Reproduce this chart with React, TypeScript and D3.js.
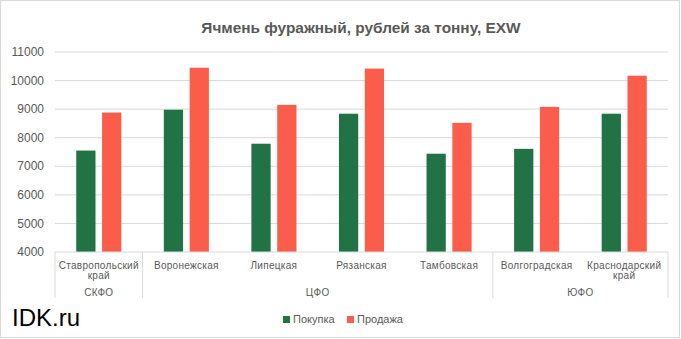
import React from "react";
import * as d3 from "d3";

const categories = ["Ставропольский край", "Воронежская", "Липецкая", "Рязанская", "Тамбовская", "Волгоградская", "Краснодарский край"];
const groups = ["СКФО", "ЦФО", "ЦФО", "ЦФО", "ЦФО", "ЮФО", "ЮФО"];
const buyValues = [7550, 8980, 7790, 8840, 7440, 7610, 8840];
const sellValues = [8880, 10450, 9150, 10420, 8520, 9080, 10170];
const yTicks = [4000, 5000, 6000, 7000, 8000, 9000, 10000, 11000];
const seriesNames = ["Покупка", "Продажа"];
const colors = ["#217346", "#FA5E4B"];

const W = 681, H = 339;
const left = 55, right = 668, top = 52, bottom = 252;
const font = "'Liberation Sans', Arial, sans-serif";
const textColor = "#595959";
const gridColor = "#d9d9d9";

export default function App() {
  const x = d3.scaleBand<number>().domain(d3.range(categories.length)).range([left, right]).padding(0);
  const y = d3.scaleLinear().domain([4000, 11000]).range([bottom, top]);
  const bw = x.bandwidth();
  const barW = bw * 0.22;
  const gap = bw * 0.075;

  const spans: { name: string; start: number; end: number }[] = [];
  groups.forEach((g, i) => {
    const last = spans[spans.length - 1];
    if (last && last.name === g) last.end = i;
    else spans.push({ name: g, start: i, end: i });
  });

  return (
    <svg width={W} height={H} style={{ position: "absolute", left: 0, top: 0, background: "#fff" }} fontFamily={font}>
      <rect x={0.5} y={0.5} width={679} height={337} fill="#fff" stroke={gridColor} />
      <text x={361} y={33} textAnchor="middle" fontSize={15.4} fontWeight="bold" fill={textColor}>
        Ячмень фуражный, рублей за тонну, EXW
      </text>
      {yTicks.map((t) => (
        <g key={t}>
          {t > 4000 && <line x1={left} x2={right} y1={y(t)} y2={y(t)} stroke={gridColor} strokeWidth={1} />}
          <text x={44} y={y(t)} dy="0.35em" textAnchor="end" fontSize={12} fill={textColor}>{t}</text>
        </g>
      ))}
      {categories.map((c, i) => {
        const cx = x(i)! + bw / 2;
        const vals = [buyValues[i], sellValues[i]];
        return (
          <g key={c}>
            {vals.map((v, k) => {
              const bx = k === 0 ? cx - gap / 2 - barW : cx + gap / 2;
              return <rect key={k} x={bx} y={y(v)} width={barW} height={y(4000) - y(v)} fill={colors[k]} />;
            })}
            {c.split(" ").map((w, j) => (
              <text key={j} x={cx} y={268.5 + j * 10} textAnchor="middle" fontSize={10} letterSpacing={0.3} fill={textColor}>{w}</text>
            ))}
          </g>
        );
      })}
      <line x1={left} x2={right} y1={bottom} y2={bottom} stroke={gridColor} />
      {spans.map((s, i) => {
        const x0 = x(s.start)!;
        const x1 = x(s.end)! + bw;
        return (
          <g key={i}>
            <line x1={x0} x2={x0} y1={bottom} y2={298} stroke={gridColor} />
            {i === spans.length - 1 && <line x1={x1} x2={x1} y1={bottom} y2={298} stroke={gridColor} />}
            <text x={(x0 + x1) / 2} y={295.5} textAnchor="middle" fontSize={10} letterSpacing={0.3} fill={textColor}>{s.name}</text>
          </g>
        );
      })}
      <text x={12} y={326} fontSize={24} fill="#000">IDK.ru</text>
      {seriesNames.map((n, k) => {
        const lx = k === 0 ? 283 : 347;
        return (
          <g key={n}>
            <rect x={lx} y={316} width={7} height={7} fill={colors[k]} />
            <text x={lx + 10} y={323} fontSize={11} fill={textColor}>{n}</text>
          </g>
        );
      })}
    </svg>
  );
}
